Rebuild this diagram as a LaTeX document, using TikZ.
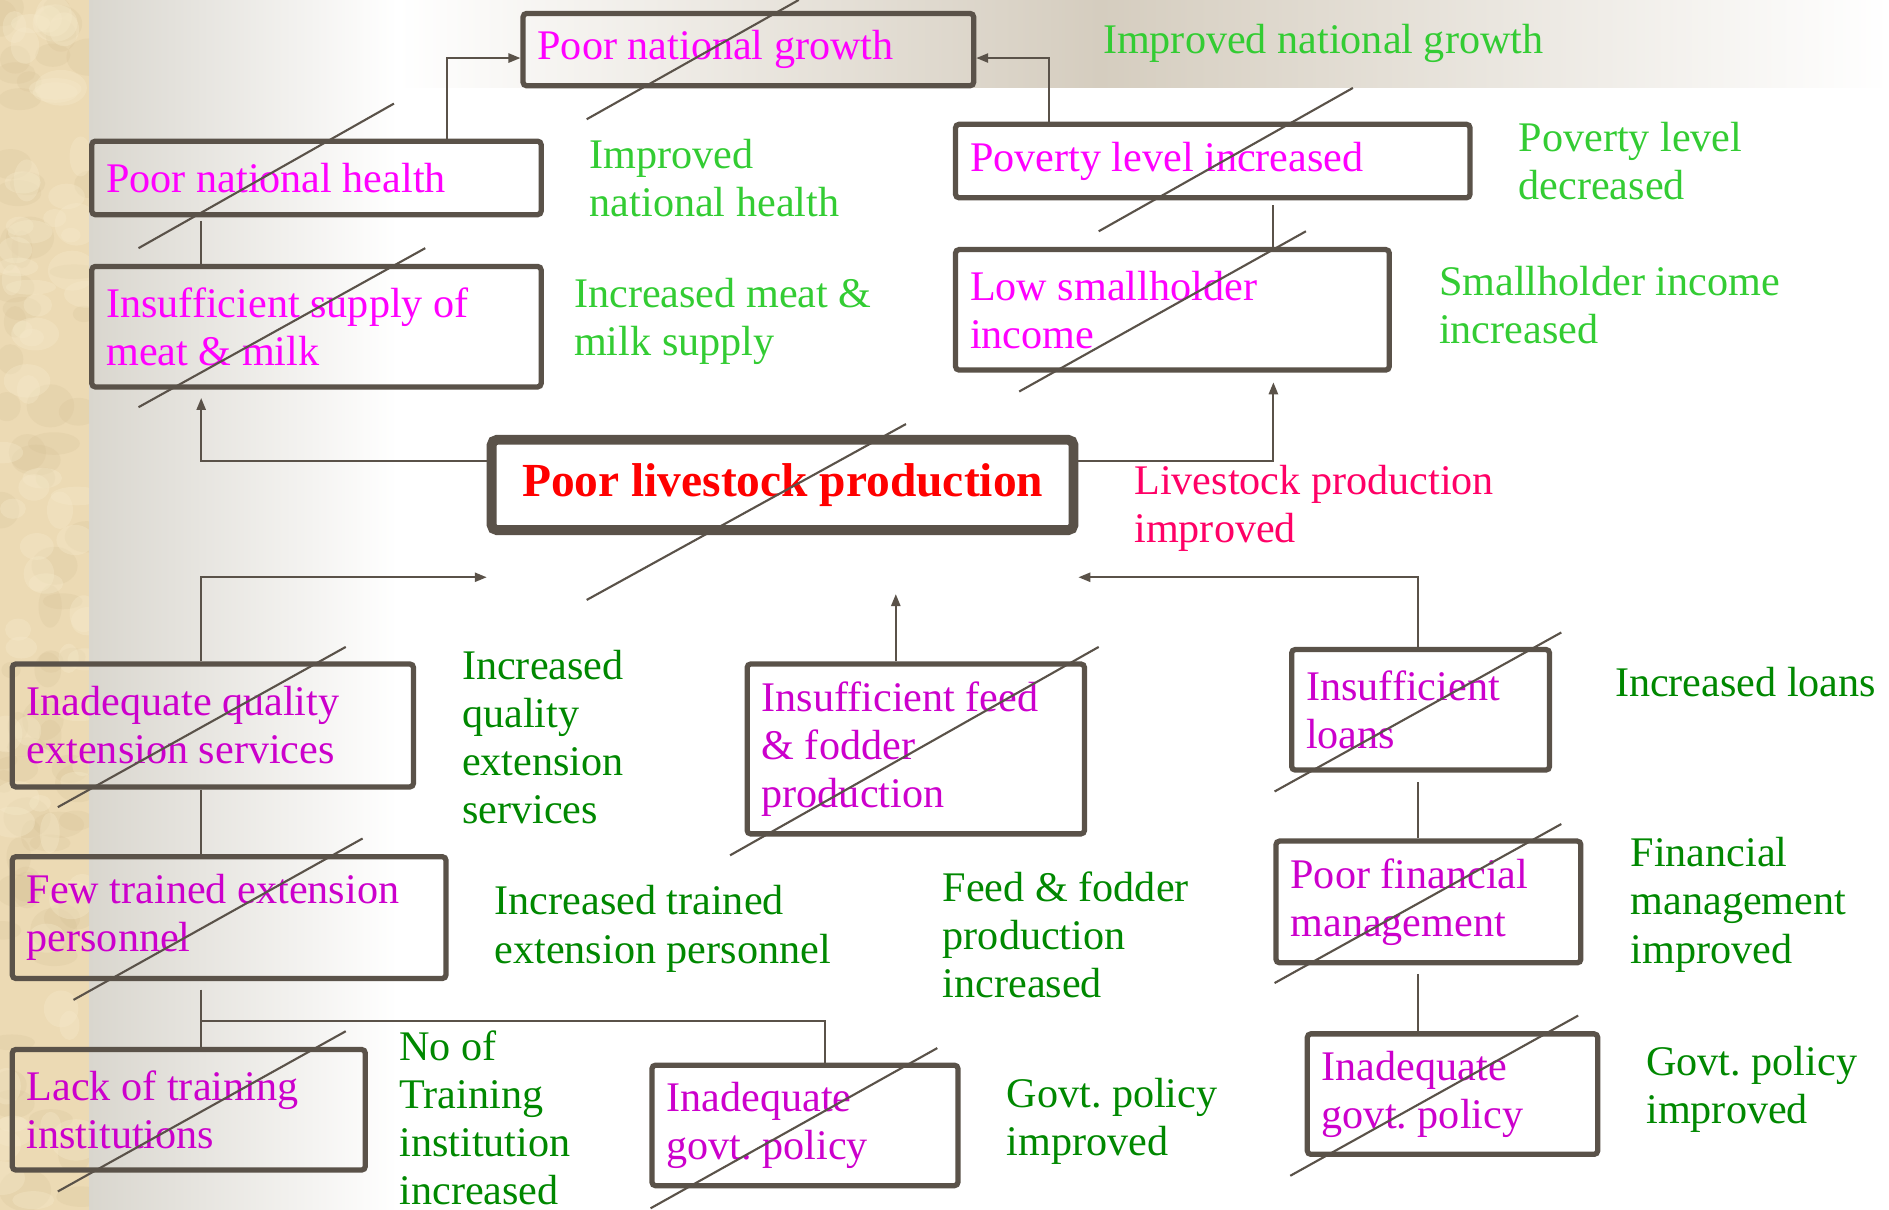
\documentclass[tikz,border=0pt]{standalone}
\usepackage{fontspec}
\setmainfont{Liberation Serif}
\usetikzlibrary{arrows.meta,positioning,calc}

\newdimen\pxu \pxu=0.12047mm
\definecolor{edge}{HTML}{5A5249}
\definecolor{magA}{HTML}{FF00FF}
\definecolor{magB}{HTML}{CC00CC}
\definecolor{grnA}{HTML}{33CC33}
\definecolor{grnB}{HTML}{008800}
\definecolor{pinkred}{HTML}{FF0066}
\definecolor{stripe}{HTML}{ECDAB4}
\definecolor{stripedark}{HTML}{D2BC92}
\definecolor{stripelight}{HTML}{F6EACB}
\definecolor{panel}{HTML}{D9D6CE}
\definecolor{band}{HTML}{D5CDBF}

\begin{document}
\begin{tikzpicture}[x=0.12047mm, y=-0.12047mm,
    cause/.style={rectangle, draw=edge, line width=1.5pt, rounded corners=1pt, align=flush left,
                  anchor=north west, inner xsep=12\pxu, inner ysep=0pt,
                  font=\fontsize{12}{13.7}\selectfont\frenchspacing},
    hi/.style={cause, text=magA},
    lo/.style={cause, text=magB},
    core/.style={rectangle, draw=edge, line width=2.8pt, rounded corners=1.5pt, anchor=north west,
                 minimum width=483\pxu, minimum height=75\pxu, text=red,
                 font=\fontsize{13.5}{16}\selectfont\bfseries},
    goal/.style={anchor=west, inner sep=0pt, align=flush left,
                 font=\fontsize{12}{13.7}\selectfont\frenchspacing},
    link/.style={draw=edge, line width=0.6pt},
    flow/.style={link, -{Triangle[length=3.4pt, width=2.6pt]}},
    slash/.style={draw=edge, line width=0.6pt}
]
\useasboundingbox (0,0) rectangle (1568,1004);
% background
\fill[white] (0,0) rectangle (1568,1004);
\shade[left color=panel, right color=white] (74,0) rectangle (330,1004);
\shade[left color=white, right color=band] (330,0) rectangle (913,73);
\shade[left color=band, right color=white] (913,0) rectangle (1568,73);
\fill[stripe] (0,0) rectangle (74,1004);
\begin{scope}
  \clip (0,0) rectangle (74,1004);
  \pgfmathsetseed{11}
  \foreach \i in {1,...,70}
    \fill[stripedark, opacity=0.2] (rnd*74, rnd*1004) ellipse ({8+rnd*14} and {6+rnd*12});
  \foreach \i in {1,...,70}
    \fill[stripelight, opacity=0.35] (rnd*74, rnd*1004) ellipse ({8+rnd*14} and {6+rnd*12});
\end{scope}

% problem boxes
\node[hi, text width=350\pxu, minimum height=60\pxu] (growth) at (432,9) {Poor national growth};
\node[hi, text width=349\pxu, minimum height=61\pxu] (health) at (74,115) {Poor national health};
\node[hi, text width=349\pxu, minimum height=100\pxu] (supply) at (74,219) {Insufficient supply of\\meat \& milk};
\node[hi, text width=403\pxu, minimum height=61\pxu] (poverty) at (791,101) {Poverty level increased};
\node[hi, text width=336\pxu, minimum height=100\pxu] (income) at (791,205) {Low smallholder\\income};
\node[core] (prod) at (404,361) {Poor livestock production};
\node[lo, text width=309\pxu, minimum height=102\pxu] (ext) at (8,549) {Inadequate quality\\extension services};
\node[lo, text width=256\pxu, minimum height=141\pxu] (feed) at (618,549) {Insufficient feed\\\& fodder\\production};
\node[lo, text width=190\pxu, minimum height=100\pxu] (loans) at (1070,537) {Insufficient\\loans};
\node[lo, text width=336\pxu, minimum height=101\pxu] (staff) at (8,709) {Few trained extension\\personnel};
\node[lo, text width=229\pxu, minimum height=101\pxu] (finance) at (1057,696) {Poor financial\\management};
\node[lo, text width=269\pxu, minimum height=100\pxu] (inst) at (8,869) {Lack of training\\institutions};
\node[lo, text width=230\pxu, minimum height=100\pxu] (policyA) at (539,882) {Inadequate\\govt. policy};
\node[lo, text width=217\pxu, minimum height=100\pxu] (policyB) at (1083,856) {Inadequate\\govt. policy};

% objectives
\node[goal, text=grnA] (gGrowth) at (915,36) {Improved national growth};
\node[goal, text=grnA] (gHealth) at (489,148) {Improved\\national health};
\node[goal, text=grnA] (gSupply) at (476,267) {Increased meat \&\\milk supply};
\node[goal, text=grnA] (gPoverty) at (1260,134) {Poverty level\\decreased};
\node[goal, text=grnA] (gIncome) at (1194,253) {Smallholder income\\increased};
\node[goal, text=pinkred] (gProd) at (941,422) {Livestock production\\improved};
\node[goal, text=grnB] (gExt) at (383,612) {Increased\\quality\\extension\\services};
\node[goal, text=grnB] (gLoans) at (1340,566) {Increased loans};
\node[goal, text=grnB] (gStaff) at (410,771) {Increased trained\\extension personnel};
\node[goal, text=grnB] (gFeed) at (782,776) {Feed \& fodder\\production\\increased};
\node[goal, text=grnB] (gFinance) at (1353,751) {Financial\\management\\improved};
\node[goal, text=grnB] (gInst) at (331,928) {No of\\Training\\institution\\increased};
\node[goal, text=grnB] (gPolicyA) at (835,931) {Govt. policy\\improved};
\node[goal, text=grnB] (gPolicyB) at (1366,904) {Govt. policy\\improved};

% connectors
\coordinate (inL) at ([yshift=-35\pxu]prod.south west);
\coordinate (inR) at ([yshift=-35\pxu]prod.south east);
\coordinate (inM) at ([xshift=94\pxu,yshift=-49\pxu]prod.south);
\draw[flow] ([xshift=-80\pxu]health.north east) |- ([yshift=-7\pxu]growth.west);
\draw[flow] ([xshift=80\pxu]poverty.north west) |- ([yshift=-7\pxu]growth.east);
\draw[link, shorten <=3\pxu] ([xshift=93\pxu]health.south west) -- ([xshift=93\pxu]supply.north west);
\draw[flow, shorten >=7\pxu] ([yshift=20\pxu]prod.west) -| ([xshift=93\pxu]supply.south west);
\draw[flow, shorten >=8\pxu] ([yshift=20\pxu]prod.east) -| ([xshift=266\pxu]income.south west);
\draw[link, shorten <=4\pxu] ([xshift=266\pxu]poverty.south west) -- ([xshift=266\pxu]income.north west);
\draw[flow] ([xshift=159\pxu]ext.north west) |- (inL);
\draw[flow] (feed.north -| inM) -- (inM);
\draw[flow] ([xshift=107\pxu]loans.north west) |- (inR);
\draw[link] ([xshift=159\pxu]ext.south west) -- ([xshift=159\pxu]staff.north west);
\draw[link, shorten <=8\pxu] ([xshift=107\pxu]loans.south west) -- ([xshift=120\pxu]finance.north west);
\draw[link, shorten <=7\pxu] ([xshift=120\pxu]finance.south west) -- ([xshift=94\pxu]policyB.north west);
\draw[link, shorten <=7\pxu] ([xshift=159\pxu]staff.south west) -- ([xshift=159\pxu]inst.north west);
\draw[link] ([xshift=159\pxu,yshift=-33\pxu]staff.south west) -| ([xshift=146\pxu]policyA.north west);

% crossing-out strokes
\draw[slash] (487,99) -- (663,0);
\draw[slash] (115,206) -- (327,86);
\draw[slash] (115,338) -- (353,206);
\draw[slash] (912,192) -- (1123,73);
\draw[slash] (846,325) -- (1084,192);
\draw[slash] (487,498) -- (752,352);
\draw[slash] (48,670) -- (287,537);
\draw[slash] (606,710) -- (912,537);
\draw[slash] (1058,657) -- (1296,525);
\draw[slash] (61,830) -- (301,696);
\draw[slash] (1058,816) -- (1296,684);
\draw[slash] (48,989) -- (287,856);
\draw[slash] (540,1003) -- (778,870);
\draw[slash] (1071,976) -- (1310,843);
\end{tikzpicture}
\end{document}
